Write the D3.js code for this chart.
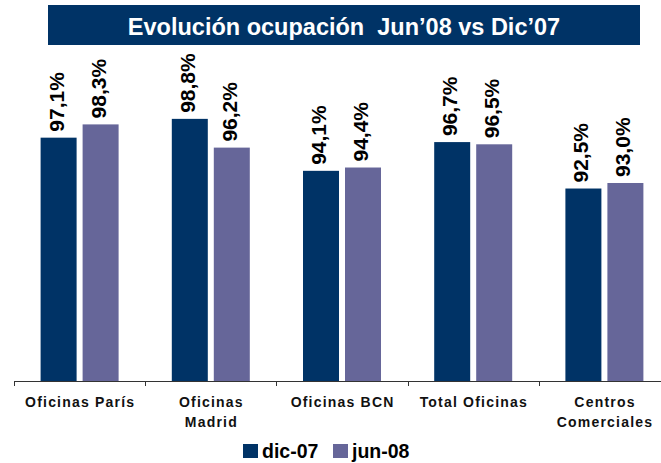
<!DOCTYPE html>
<html>
<head>
<meta charset="utf-8">
<script src="https://cdn.jsdelivr.net/npm/d3@7"></script>
<style>
    body { margin: 0; background: #ffffff; }
    #chart-container { width: 661px; height: 463px; }
</style>
</head>
<body>
<div id="chart-container"></div>
<script>
// Data
const categories = [["Oficinas París"], ["Oficinas", "Madrid"], ["Oficinas BCN"], ["Total Oficinas"], ["Centros", "Comerciales"]];
const seriesNames = ["dic-07", "jun-08"];
const dic07 = [97.1, 98.8, 94.1, 96.7, 92.5];
const jun08 = [98.3, 96.2, 94.4, 96.5, 93.0];
const seriesColors = ["#003366", "#666699"];

const width = 661;
const height = 463;
const font = "'Liberation Sans', Arial, sans-serif";

const svg = d3.select("#chart-container")
    .append("svg")
    .attr("width", width)
    .attr("height", height)
    .style("font-family", font);

// Title box
svg.append("rect")
    .attr("x", 48)
    .attr("y", 5)
    .attr("width", 592)
    .attr("height", 40)
    .attr("fill", "#003366");

svg.append("text")
    .attr("x", 344)
    .attr("y", 35)
    .attr("text-anchor", "middle")
    .attr("fill", "white")
    .style("font-size", "23.5px")
    .style("font-weight", "bold")
    .style("white-space", "pre")
    .text("Evolución ocupación  Jun\u201908 vs Dic\u201907");

// Scales
const keys = categories.map(c => c.join(" "));
const x = d3.scaleBand()
    .domain(keys)
    .range([14, 670])
    .paddingInner(0)
    .paddingOuter(0);

const xInner = d3.scaleBand()
    .domain(seriesNames)
    .range([-39, 39])
    .paddingInner(1 / 7);

const y = d3.scaleLinear()
    .domain([75, 100])
    .range([382, 105.6]);

const axisY = 381;

// Rows: one per category with both values
const rows = keys.map((k, i) => ({ key: k, values: [dic07[i], jun08[i]] }));

const groups = svg.selectAll(".group")
    .data(rows)
    .enter()
    .append("g")
    .attr("class", "group")
    .attr("transform", d => `translate(${x(d.key) + x.bandwidth() / 2}, 0)`);

groups.selectAll("rect")
    .data(d => d.values.map((v, j) => ({ series: seriesNames[j], value: v, j })))
    .enter()
    .append("rect")
    .attr("x", d => xInner(d.series))
    .attr("y", d => y(d.value))
    .attr("width", xInner.bandwidth())
    .attr("height", d => axisY - y(d.value))
    .attr("fill", d => seriesColors[d.j]);

// Rotated value labels
groups.selectAll(".value")
    .data(d => d.values.map((v, j) => ({ series: seriesNames[j], value: v })))
    .enter()
    .append("text")
    .attr("class", "value")
    .attr("transform", d => `translate(${xInner(d.series) + xInner.bandwidth() / 2 + 5}, ${y(d.value) - 6}) rotate(-90)`)
    .attr("text-anchor", "start")
    .style("font-size", "21px")
    .style("font-weight", "bold")
    .attr("fill", "#000")
    .text(d => d.value.toFixed(1).replace(".", ",") + "%");

// Axis line and ticks between categories
svg.append("line")
    .attr("x1", 14)
    .attr("x2", width)
    .attr("y1", axisY + 0.5)
    .attr("y2", axisY + 0.5)
    .attr("stroke", "#333")
    .attr("stroke-width", 1);

svg.selectAll(".tick")
    .data(keys)
    .enter()
    .append("line")
    .attr("class", "tick")
    .attr("x1", d => Math.round(x(d)) + 0.5)
    .attr("x2", d => Math.round(x(d)) + 0.5)
    .attr("y1", axisY)
    .attr("y2", axisY + 5)
    .attr("stroke", "#333");

// Category labels (one or two lines)
const labels = svg.selectAll(".cat")
    .data(categories)
    .enter()
    .append("text")
    .attr("class", "cat")
    .attr("text-anchor", "middle")
    .style("font-size", "14px")
    .style("font-weight", "bold")
    .style("letter-spacing", "1.2px")
    .attr("fill", "#111");

labels.selectAll("tspan")
    .data((d, i) => d.map((line, li) => ({ line, li, key: keys[i] })))
    .enter()
    .append("tspan")
    .attr("x", d => x(d.key) + x.bandwidth() / 2 + 0.6)
    .attr("y", d => 407 + d.li * 20)
    .text(d => d.line);

// Legend
const legend = svg.append("g")
    .style("font-size", "19.5px")
    .style("font-weight", "bold");

const legendX = [243, 333];
seriesNames.forEach((name, i) => {
    legend.append("rect")
        .attr("x", legendX[i])
        .attr("y", 444)
        .attr("width", 15)
        .attr("height", 14)
        .attr("fill", seriesColors[i]);
    legend.append("text")
        .attr("x", legendX[i] + 19)
        .attr("y", 458)
        .attr("fill", "#000")
        .text(name);
});
</script>
</body>
</html>
